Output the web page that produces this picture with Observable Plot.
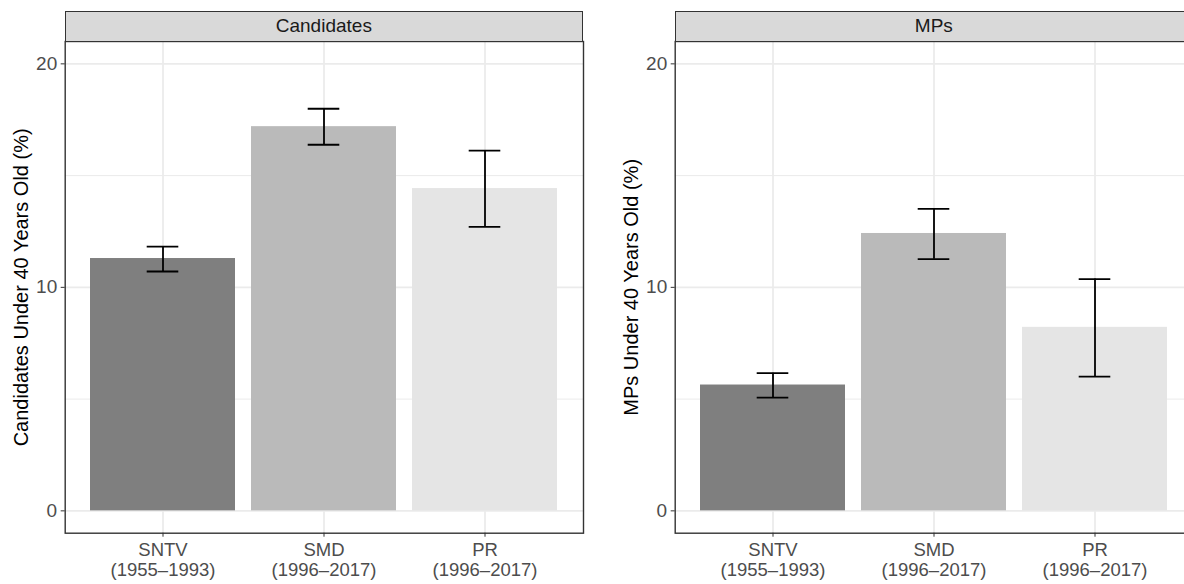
<!DOCTYPE html>
<html>
<head>
<meta charset="utf-8">
<script src="https://cdn.jsdelivr.net/npm/d3@7"></script>
<script src="https://cdn.jsdelivr.net/npm/@observablehq/plot@0.6"></script>
<style>
  body { margin: 0; background: white; font-family: "Liberation Sans", Arial, sans-serif; }
  #wrap { width: 1184px; height: 584px; overflow: hidden; display: flex; position: relative; background: white; }
  .panel { position: relative; flex: 0 0 610px; width: 610px; height: 584px; }
  .strip { position: absolute; box-sizing: border-box; background: #d9d9d9; border: 1.4px solid #333;
           color: #1a1a1a; font-size: 19px; text-align: center; display: flex; align-items: center; justify-content: center; }
</style>
</head>
<body>
<div id="wrap"></div>
<script>
// ---- data ----
const categories = ["SNTV\n(1955–1993)", "SMD\n(1996–2017)", "PR\n(1996–2017)"];
const candValue = [11.29, 17.19, 14.42];
const candLow   = [10.71, 16.38, 12.71];
const candHigh  = [11.82, 17.99, 16.12];
const mpValue = [5.63, 12.41, 8.21];
const mpLow   = [5.07, 11.26, 6.01];
const mpHigh  = [6.16, 13.51, 10.37];
const yTicks = [0, 10, 20];
const yMinor = [5, 15];
const panels = [
  {strip: "Candidates", title: "Candidates Under 40 Years Old (%)", value: candValue, low: candLow, high: candHigh},
  {strip: "MPs", title: "MPs Under 40 Years Old (%)", value: mpValue, low: mpLow, high: mpHigh}
];

const W = 610, H = 584, mL = 64.7, mR = 27, mT = 41, mB = 584 - 532.7;
const wrap = document.getElementById("wrap");

for (const p of panels) {
  const rows = categories.map((c, i) => ({cat: c, value: p.value[i], low: p.low[i], high: p.high[i]}));
  const div = document.createElement("div");
  div.className = "panel";
  const chart = Plot.plot({
    width: W, height: H,
    marginLeft: mL, marginRight: mR, marginTop: mT, marginBottom: mB,
    style: {fontFamily: "'Liberation Sans', Arial, sans-serif", fontSize: "18.5px", background: "white"},
    x: {domain: categories, paddingInner: 0.1, paddingOuter: 0.15, label: null},
    y: {domain: [-1, 21], label: null},
    color: {domain: categories, range: ["#7f7f7f", "#bababa", "#e5e5e5"]},
    marks: [
      Plot.ruleY(yMinor, {stroke: "#ebebeb", strokeWidth: 1}),
      Plot.ruleY(yTicks, {stroke: "#ebebeb", strokeWidth: 1.8}),
      Plot.ruleX(categories, {x: d => d, stroke: "#ebebeb", strokeWidth: 1.8}),
      Plot.barY(rows, {x: "cat", y: "value", fill: "cat"}),
      Plot.ruleX(rows, {x: "cat", y1: "low", y2: "high", stroke: "black", strokeWidth: 1.8}),
      Plot.tickY(rows, {x: "cat", y: "low", stroke: "black", strokeWidth: 1.8, insetLeft: 56.7, insetRight: 56.7}),
      Plot.tickY(rows, {x: "cat", y: "high", stroke: "black", strokeWidth: 1.8, insetLeft: 56.7, insetRight: 56.7}),
      Plot.frame({stroke: "#333", strokeWidth: 1.4}),
      Plot.axisY({ticks: yTicks, tickSize: 4, tickPadding: 4, stroke: "#333", fill: "#4d4d4d", fontSize: 19, label: null}),
      Plot.axisY({ticks: [], label: p.title, labelAnchor: "center", labelArrow: "none", labelOffset: 51, fill: "black", fontSize: 20}),
      Plot.axisX({tickSize: 4, tickPadding: 5, stroke: "#333", fill: "#4d4d4d", fontSize: 18.5, lineHeight: 1.06, label: null})
    ]
  });
  div.appendChild(chart);
  const strip = document.createElement("div");
  strip.className = "strip";
  strip.style.left = mL + "px";
  strip.style.width = (W - mL - mR) + "px";
  strip.style.top = "10.7px";
  strip.style.height = (mT - 10.7 + 0.7) + "px";
  strip.textContent = p.strip;
  div.appendChild(strip);
  wrap.appendChild(div);
}
</script>
</body>
</html>
